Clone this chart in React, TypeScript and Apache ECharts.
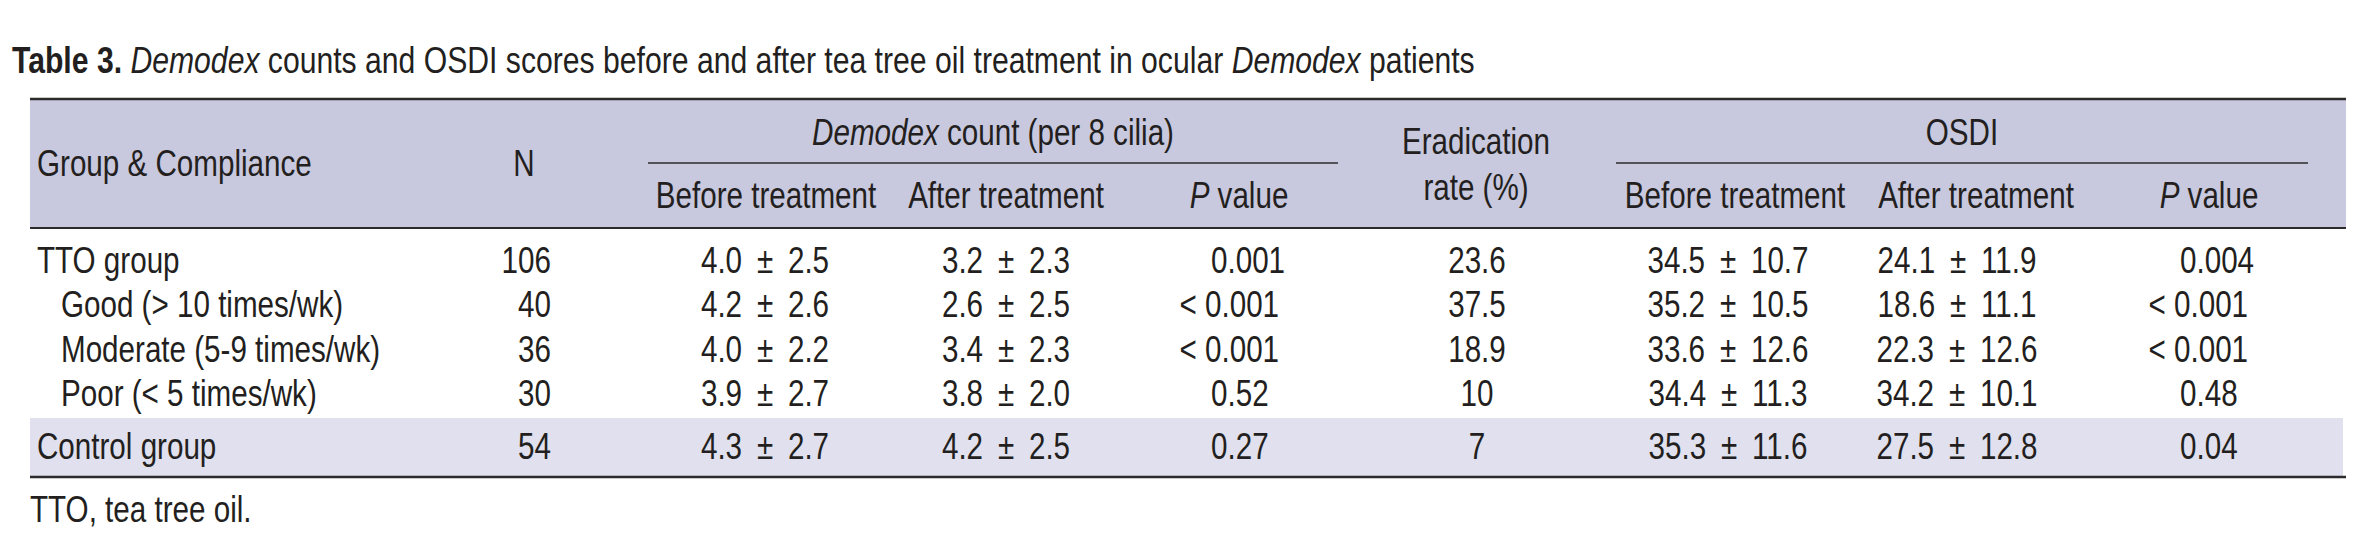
import React, { useEffect, useRef } from "react";
import * as echarts from "echarts";

// ---- Data ----
const titleText =
  "{b|Table 3.} {i|Demodex} counts and OSDI scores before and after tea tree oil treatment in ocular {i|Demodex} patients";
const footnote = "TTO, tea tree oil.";

const groups = [
  "TTO group",
  "Good (> 10 times/wk)",
  "Moderate (5-9 times/wk)",
  "Poor (< 5 times/wk)",
  "Control group",
];
const groupIsSub = [false, true, true, true, false];
const nValues = [106, 40, 36, 30, 54];
const demodexBeforeMean = [4.0, 4.2, 4.0, 3.9, 4.3];
const demodexBeforeSD = [2.5, 2.6, 2.2, 2.7, 2.7];
const demodexAfterMean = [3.2, 2.6, 3.4, 3.8, 4.2];
const demodexAfterSD = [2.3, 2.5, 2.3, 2.0, 2.5];
const demodexP = ["0.001", "< 0.001", "< 0.001", "0.52", "0.27"];
const eradicationRate = [23.6, 37.5, 18.9, 10, 7];
const osdiBeforeMean = [34.5, 35.2, 33.6, 34.4, 35.3];
const osdiBeforeSD = [10.7, 10.5, 12.6, 11.3, 11.6];
const osdiAfterMean = [24.1, 18.6, 22.3, 34.2, 27.5];
const osdiAfterSD = [11.9, 11.1, 12.6, 10.1, 12.8];
const osdiP = ["0.004", "< 0.001", "< 0.001", "0.48", "0.04"];

const subHeaders = ["Before treatment", "After treatment", "{i|P} value"];

// ---- Style ----
const FONT = "'Liberation Sans', Arial, 'Helvetica Neue', sans-serif";
const FS = 37;
const SX = 0.8; // horizontal condensing
const INK = "#231f20";
const HEADER_BG = "#c8c8de";
const ROW_BG = "#e0e0ee";

const fmt = (m: number, s: number) => `${m.toFixed(1)}\u2002±\u2002${s.toFixed(1)}`;

function measure(text: string, size: number) {
  const c = document.createElement("canvas").getContext("2d");
  if (!c) return 0;
  c.font = `${size}px ${FONT}`;
  return c.measureText(text).width;
}

function txt(text: string, x: number, y: number, align: string, opts: any = {}) {
  const fs = opts.fontSize || FS;
  return {
    type: "text",
    x,
    y,
    scaleX: opts.scaleX || SX,
    silent: true,
    style: {
      text,
      fill: INK,
      fontSize: fs,
      fontFamily: FONT,
      fontWeight: opts.fontWeight || "normal",
      fontStyle: opts.fontStyle || "normal",
      align,
      textAlign: align,
      verticalAlign: "middle",
      textVerticalAlign: "middle",
      rich: {
        i: { fontStyle: "italic", fontSize: fs, fontFamily: FONT, fill: INK },
        b: { fontWeight: "bold", fontSize: fs, fontFamily: FONT, fill: INK },
      },
    },
  };
}

function hline(x1: number, x2: number, y: number, w: number) {
  return {
    type: "line",
    silent: true,
    shape: { x1, y1: y, x2, y2: y },
    style: { stroke: "#2b2b2b", lineWidth: w },
  };
}

export default function App() {
  const ref = useRef<HTMLDivElement>(null);

  useEffect(() => {
    document.body.style.margin = "0";
    if (!ref.current) return;
    const chart = echarts.init(ref.current, undefined, { renderer: "svg" });

    const L = 30;
    const R = 2346;
    const headTop = 99;
    const headBottom = 228;
    const rowY = [260, 304.5, 349, 393.5, 446];
    const ctrlTop = 418;
    const bottom = 477;

    const colGroup = 37;
    const colGroupSub = 61;
    const colNRight = 551;
    const colDB = 765;
    const colDA = 1006;
    const colDP = 1211;
    const colEr = 1477;
    const colOB = 1728;
    const colOA = 1957;
    const colOP = 2180;

    const prefixW = measure("< ", FS) * SX + 6;

    const els: any[] = [];
    els.push({ type: "rect", silent: true, shape: { x: L, y: headTop, width: R - L, height: headBottom - headTop }, style: { fill: HEADER_BG } });
    els.push({ type: "rect", silent: true, shape: { x: L, y: ctrlTop, width: R - L - 3, height: bottom - ctrlTop }, style: { fill: ROW_BG } });
    els.push(hline(L, R, headTop, 2.5));
    els.push(hline(L, R, headBottom, 2));
    els.push(hline(648, 1338, 163, 1.6));
    els.push(hline(1616, 2308, 163, 1.6));
    els.push(hline(L, R, bottom, 2.5));

    // title
    els.push(txt(titleText, 12, 60, "left", { fontSize: 37, scaleX: 0.815 }));

    // headers
    els.push(txt("Group & Compliance", colGroup, 163, "left"));
    els.push(txt("N", 524, 163, "center"));
    els.push(txt("{i|Demodex} count (per 8 cilia)", 993, 132, "center"));
    els.push(txt("OSDI", 1962, 132, "center"));
    els.push(txt("Eradication", 1476, 141, "center"));
    els.push(txt("rate (%)", 1476, 187, "center"));
    [766, 1006, 1239].forEach((x, i) => els.push(txt(subHeaders[i], x, 195, "center")));
    [1735, 1976, 2209].forEach((x, i) => els.push(txt(subHeaders[i], x, 195, "center")));

    // body
    groups.forEach((g, i) => {
      const y = rowY[i];
      els.push(txt(g, groupIsSub[i] ? colGroupSub : colGroup, y, "left"));
      els.push(txt(String(nValues[i]), colNRight, y, "right"));
      els.push(txt(fmt(demodexBeforeMean[i], demodexBeforeSD[i]), colDB, y, "center"));
      els.push(txt(fmt(demodexAfterMean[i], demodexAfterSD[i]), colDA, y, "center"));
      const dp = demodexP[i];
      els.push(txt(dp, dp.startsWith("<") ? colDP - prefixW : colDP, y, "left"));
      els.push(txt(String(eradicationRate[i]), colEr, y, "center"));
      els.push(txt(fmt(osdiBeforeMean[i], osdiBeforeSD[i]), colOB, y, "center"));
      els.push(txt(fmt(osdiAfterMean[i], osdiAfterSD[i]), colOA, y, "center"));
      const op = osdiP[i];
      els.push(txt(op, op.startsWith("<") ? colOP - prefixW : colOP, y, "left"));
    });

    els.push(txt(footnote, L, 509, "left"));

    chart.setOption({
      animation: false,
      backgroundColor: "#ffffff",
      graphic: { elements: els },
    });

    return () => chart.dispose();
  }, []);

  return <div ref={ref} style={{ width: 2376, height: 550, background: "#fff" }} />;
}
